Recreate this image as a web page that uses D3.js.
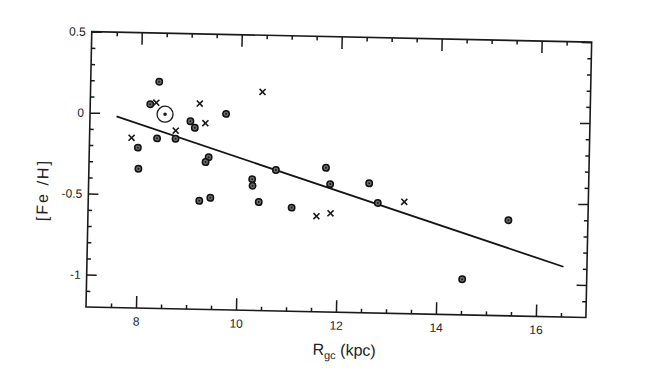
<!DOCTYPE html>
<html>
<head>
<meta charset="utf-8">
<script src="https://cdn.jsdelivr.net/npm/d3@7"></script>
<style>
  html, body { margin: 0; padding: 0; background: #fff; }
  svg { display: block; }
  text { font-family: "Liberation Sans", Arial, sans-serif; fill: #222; }
</style>
</head>
<body>
<svg id="chart" width="650" height="370"></svg>
<script>
// ---- data ----
const circleR  = [8.37, 8.20, 9.01, 9.10, 9.72, 8.35, 8.72, 7.97, 7.99, 9.39, 9.33, 10.74, 10.27, 10.28, 9.22, 9.44, 10.41, 11.07, 11.74, 11.83, 12.61, 12.79, 15.41, 14.51];
const circleFe = [0.20, 0.06, -0.04, -0.08, 0.01, -0.15, -0.15, -0.21, -0.34, -0.26, -0.29, -0.33, -0.39, -0.43, -0.53, -0.51, -0.53, -0.56, -0.31, -0.41, -0.40, -0.52, -0.61, -0.98];
const crossR   = [8.32, 9.19, 9.31, 8.72, 7.84, 10.44, 11.57, 11.85, 13.32];
const crossFe  = [0.07, 0.07, -0.05, -0.10, -0.15, 0.15, -0.61, -0.59, -0.51];
const sunR = [8.5];
const sunFe = [0.0];
const fitR  = [7.53, 16.53];
const fitFe = [-0.02, -0.89];
const xMajorTicks = [8, 10, 12, 14, 16];
const xTickLabels = ["8", "10", "12", "14", "16"];
const yMajorTicks = [0.5, 0, -0.5, -1];
const yTickLabels = ["0.5", "0", "-0.5", "-1"];

// ---- layout ----
const pLeft = 86, pRight = 586, pBottom = 307, pTop = 31.6;
const x = d3.scaleLinear().domain([7, 17]).range([pLeft, pRight]);
const y = d3.scaleLinear().domain([-1.2, 0.5]).range([pBottom, pTop]);

const svg = d3.select("#chart");
const g = svg.append("g").attr("transform", `rotate(1.2, ${pLeft}, ${pBottom})`);

const xMinor = d3.range(7.5, 17, 0.5).filter(v => !xMajorTicks.some(t => Math.abs(t - v) < 1e-6));
const yMinor = d3.range(-1.1, 0.5, 0.1).map(v => Math.round(v * 10) / 10)
  .filter(v => !yMajorTicks.some(t => Math.abs(t - v) < 1e-6));

function styleAxis(sel) {
  sel.select(".domain").remove();
  sel.selectAll("line").attr("stroke", "#1a1a1a").attr("stroke-width", 1.5);
  sel.selectAll("text").style("font-size", "12px").attr("fill", "#222");
}

// bottom
g.append("g").attr("transform", `translate(0,${pBottom})`)
  .call(d3.axisBottom(x).tickValues(xMajorTicks).tickSize(-12).tickPadding(9)
    .tickFormat((d, i) => xTickLabels[i])).call(styleAxis);
g.append("g").attr("transform", `translate(0,${pBottom})`)
  .call(d3.axisBottom(x).tickValues(xMinor).tickSize(-4).tickFormat("")).call(styleAxis);
// top
g.append("g").attr("transform", `translate(0,${pTop})`)
  .call(d3.axisTop(x).tickValues(xMajorTicks).tickSize(-12).tickFormat("")).call(styleAxis);
g.append("g").attr("transform", `translate(0,${pTop})`)
  .call(d3.axisTop(x).tickValues(xMinor).tickSize(-4).tickFormat("")).call(styleAxis);
// left
g.append("g").attr("transform", `translate(${pLeft},0)`)
  .call(d3.axisLeft(y).tickValues(yMajorTicks).tickSize(-10).tickPadding(6)
    .tickFormat((d, i) => yTickLabels[i])).call(styleAxis);
g.append("g").attr("transform", `translate(${pLeft},0)`)
  .call(d3.axisLeft(y).tickValues(yMinor).tickSize(-4).tickFormat("")).call(styleAxis);
// right
g.append("g").attr("transform", `translate(${pRight},0)`)
  .call(d3.axisRight(y).tickValues(yMajorTicks).tickSize(-10).tickFormat("")).call(styleAxis);
g.append("g").attr("transform", `translate(${pRight},0)`)
  .call(d3.axisRight(y).tickValues(yMinor).tickSize(-4).tickFormat("")).call(styleAxis);

// frame
g.append("rect").attr("x", pLeft).attr("y", pTop)
  .attr("width", pRight - pLeft).attr("height", pBottom - pTop)
  .attr("fill", "none").attr("stroke", "#1a1a1a").attr("stroke-width", 1.6);

// fit line
const fit = fitR.map((r, i) => [r, fitFe[i]]);
g.append("path").datum(fit)
  .attr("d", d3.line().x(d => x(d[0])).y(d => y(d[1])))
  .attr("fill", "none").attr("stroke", "#151515").attr("stroke-width", 1.8);

// circles
const circ = circleR.map((r, i) => [r, circleFe[i]]);
g.append("g").selectAll("circle").data(circ).join("circle")
  .attr("cx", d => x(d[0])).attr("cy", d => y(d[1])).attr("r", 3.2)
  .attr("fill", "#6e6e6e").attr("stroke", "#111").attr("stroke-width", 1.5);
g.append("g").selectAll("circle").data(circ).join("circle")
  .attr("cx", d => x(d[0])).attr("cy", d => y(d[1])).attr("r", 1.0)
  .attr("fill", "#1a1a1a");

// crosses
const cross = crossR.map((r, i) => [r, crossFe[i]]);
const s = 3;
g.append("g").selectAll("path").data(cross).join("path")
  .attr("d", d => {
    const cx = x(d[0]), cy = y(d[1]);
    return `M${cx - s},${cy - s}L${cx + s},${cy + s}M${cx - s},${cy + s}L${cx + s},${cy - s}`;
  })
  .attr("stroke", "#1a1a1a").attr("stroke-width", 1.6).attr("fill", "none");

// sun symbol
const sun = sunR.map((r, i) => [r, sunFe[i]]);
g.append("g").selectAll("circle").data(sun).join("circle")
  .attr("cx", d => x(d[0])).attr("cy", d => y(d[1])).attr("r", 8)
  .attr("fill", "none").attr("stroke", "#1a1a1a").attr("stroke-width", 1.3);
g.append("g").selectAll("circle").data(sun).join("circle")
  .attr("cx", d => x(d[0])).attr("cy", d => y(d[1])).attr("r", 1.8)
  .attr("fill", "#1a1a1a");

// axis titles
const xt = g.append("text").attr("x", 345).attr("y", 350)
  .attr("text-anchor", "middle").style("font-size", "16px");
xt.append("tspan").text("R");
xt.append("tspan").text("gc").style("font-size", "11px").attr("dy", 4);
xt.append("tspan").text(" (kpc)").attr("dy", -4);

g.append("text").attr("transform", "translate(40,191) rotate(-90)")
  .attr("text-anchor", "middle").attr("dy", "0.35em")
  .style("font-size", "16px").style("letter-spacing", "2px")
  .text("[Fe /H]");
</script>
</body>
</html>
